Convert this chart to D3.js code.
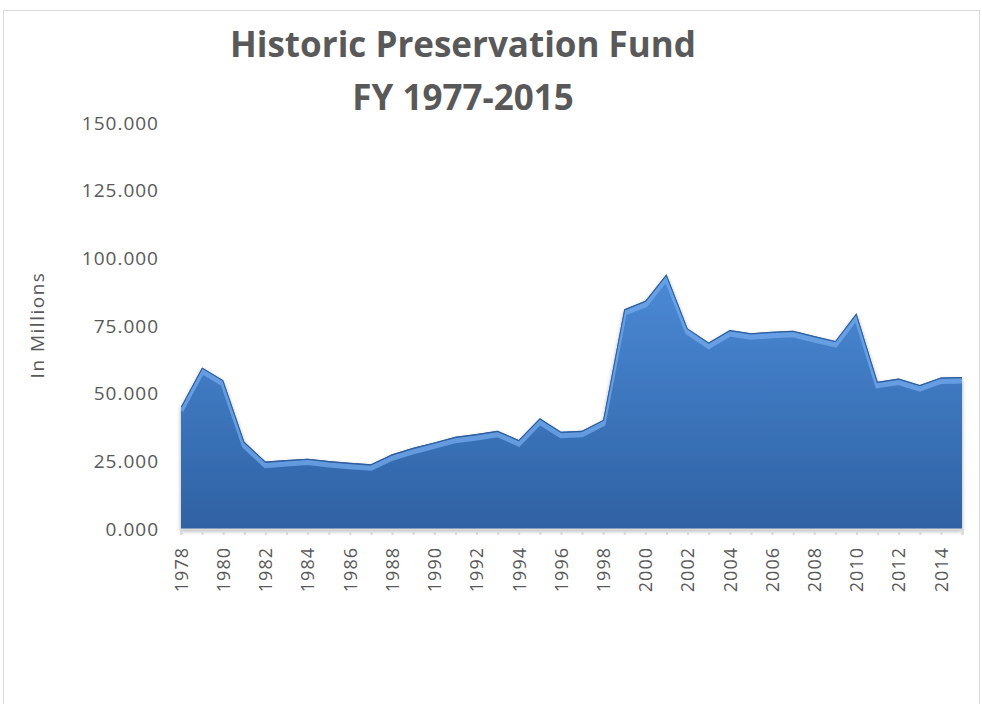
<!DOCTYPE html>
<html>
<head>
<meta charset="utf-8">
<script src="https://cdnjs.cloudflare.com/ajax/libs/d3/7.8.5/d3.min.js"></script>
<style>
  body { margin: 0; background: #fff; }
  text { font-family: "Open Sans", "Liberation Sans", sans-serif; }
</style>
</head>
<body>
<div id="chart"></div>
<script>
// Fiscal years and appropriations (in millions)
var years = [1978, 1979, 1980, 1981, 1982, 1983, 1984, 1985, 1986, 1987,
             1988, 1989, 1990, 1991, 1992, 1993, 1994, 1995, 1996, 1997,
             1998, 1999, 2000, 2001, 2002, 2003, 2004, 2005, 2006, 2007,
             2008, 2009, 2010, 2011, 2012, 2013, 2014, 2015];
var funding = [45.2, 59.7, 55.0, 32.2, 24.9, 25.5, 26.0, 25.1, 24.5, 23.9,
               27.6, 30.0, 32.0, 34.1, 35.1, 36.3, 32.9, 40.9, 35.9, 36.3,
               40.3, 81.2, 84.3, 94.1, 74.1, 68.9, 73.5, 72.3, 72.9, 73.2,
               71.3, 69.5, 79.7, 54.4, 55.6, 53.2, 56.0, 56.2];
var yTicks = [0, 25, 50, 75, 100, 125, 150];
var titleLines = ["Historic Preservation Fund", "FY 1977-2015"];

var data = years.map(function(y, i) { return { year: y, value: funding[i] }; });

var svg = d3.select("#chart").append("svg")
            .attr("width", 982)
            .attr("height", 704);

// chart frame
svg.append("rect")
   .attr("x", 3.5).attr("y", 10.5)
   .attr("width", 976).attr("height", 720)
   .attr("fill", "#fff")
   .attr("stroke", "#d9d9d9");

var margin = { top: 123, left: 181 },
    width = 962 - margin.left,
    height = 529 - margin.top;

var g = svg.append("g").attr("transform", "translate(" + margin.left + "," + margin.top + ")");

var x = d3.scalePoint().domain(years).range([0, width]);
var y = d3.scaleLinear().domain([0, 150]).range([height, 0]);

var defs = svg.append("defs");
var grad = defs.append("linearGradient")
   .attr("id", "fillGrad")
   .attr("x1", 0).attr("y1", 0).attr("x2", 0).attr("y2", 1);
grad.append("stop").attr("offset", "0%").attr("stop-color", "#4b8ad6");
grad.append("stop").attr("offset", "100%").attr("stop-color", "#2f62a4");

defs.append("filter").attr("id", "shadow")
   .attr("x", "-5%").attr("y", "-5%").attr("width", "110%").attr("height", "115%")
   .append("feDropShadow")
   .attr("dx", 0).attr("dy", 2).attr("stdDeviation", 2)
   .attr("flood-color", "#000").attr("flood-opacity", 0.35);

var area = d3.area()
   .x(d => x(d.year))
   .y0(y(0))
   .y1(d => y(d.value));

var line = d3.line()
   .x(d => x(d.year))
   .y(d => y(d.value));

defs.append("clipPath").attr("id", "areaClip")
   .append("path").datum(data).attr("d", area);

g.append("path")
 .datum(data)
 .attr("d", area)
 .attr("fill", "url(#fillGrad)")
 .attr("filter", "url(#shadow)");

// bevel highlight along the top edge
var bevel = g.append("g").attr("clip-path", "url(#areaClip)");
bevel.append("path")
 .datum(data)
 .attr("d", line)
 .attr("transform", "translate(0,4)")
 .attr("fill", "none")
 .attr("stroke", "#6fa6ea")
 .attr("stroke-width", 5)
 .attr("stroke-opacity", 0.8);
bevel.append("path")
 .datum(data)
 .attr("d", line)
 .attr("fill", "none")
 .attr("stroke", "#2d5c99")
 .attr("stroke-width", 2);

// x axis
var xAxis = g.append("g")
 .attr("transform", "translate(0," + height + ")")
 .call(d3.axisBottom(x)
   .tickSize(6)
   .tickFormat(d => (d % 2 === 0 ? d : "")));
xAxis.select(".domain").attr("stroke", "#d9d9d9").attr("stroke-width", 2);
xAxis.selectAll(".tick line").attr("stroke", "#d9d9d9").attr("stroke-width", 2);
xAxis.selectAll(".tick text")
 .attr("transform", "rotate(-90)")
 .attr("x", -18)
 .attr("y", 0)
 .attr("dy", "0.35em")
 .attr("text-anchor", "end")
 .attr("fill", "#595959")
 .style("font-size", "18px")
 .style("letter-spacing", "1px");

// y axis
var yAxis = g.append("g")
 .call(d3.axisLeft(y).tickValues(yTicks).tickSize(0).tickFormat(d3.format(".3f")));
yAxis.select(".domain").remove();
yAxis.selectAll(".tick text")
 .attr("x", -22)
 .attr("fill", "#595959")
 .style("font-size", "19px")
 .style("letter-spacing", "1px");

svg.append("text")
 .attr("transform", "translate(37,325) rotate(-90)")
 .attr("text-anchor", "middle")
 .attr("dy", "0.35em")
 .attr("fill", "#595959")
 .style("font-size", "19px")
 .style("letter-spacing", "1.5px")
 .text("In Millions");

svg.selectAll(".title")
 .data(titleLines)
 .enter().append("text")
 .attr("class", "title")
 .attr("x", 463)
 .attr("y", (d, i) => 57 + i * 53)
 .attr("text-anchor", "middle")
 .attr("fill", "#595959")
 .style("font-size", "35px")
 .style("font-weight", "bold")
 .text(d => d);
</script>
</body>
</html>
